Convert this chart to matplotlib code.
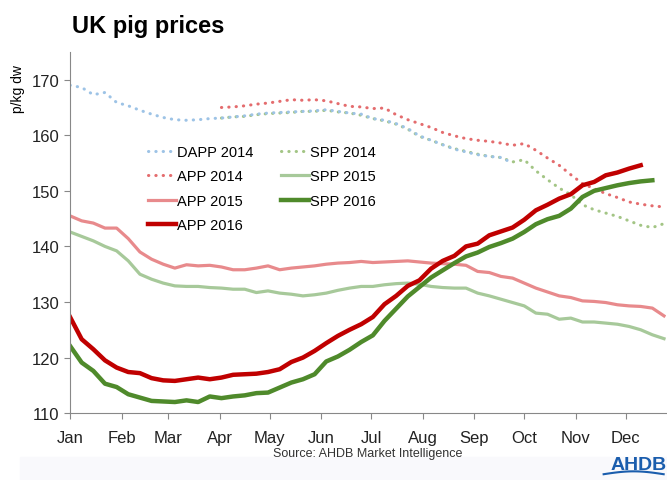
import numpy as np
import matplotlib.pyplot as plt
from matplotlib.patches import Rectangle

plt.rcParams['font.family'] = ['Liberation Sans', 'DejaVu Sans']

# weekly prices, p/kg dw (week 0 = first week of January)
dapp_2014 = [169.0, 168.6, 167.3, 167.7, 165.9, 165.3, 164.5, 163.8, 163.2, 162.8,
             162.7, 162.8, 163.0, 163.1, 163.3, 163.5, 163.8, 164.0, 164.1, 164.2,
             164.3, 164.4, 164.6, 164.3, 164.0, 163.8, 163.0, 162.7, 162.1, 161.2,
             159.9, 159.1, 158.3, 157.5, 157.0, 156.5, 156.2, 156.0, 155.0]
app_2014 = [165.0, 165.1, 165.3, 165.6, 165.8, 166.1, 166.4, 166.3, 166.4, 166.2,
            165.7, 165.2, 165.1, 164.8, 164.9, 163.7, 162.8, 162.1, 161.4, 160.5,
            159.9, 159.4, 159.1, 158.9, 158.6, 158.2, 158.5, 157.3, 155.9, 154.6,
            152.9, 151.3, 150.4, 149.5, 148.8, 148.0, 147.6, 147.3, 147.1]
spp_2014 = [163.1, 163.3, 163.4, 163.7, 163.9, 164.0, 164.1, 164.3, 164.3, 164.5,
            164.2, 164.0, 163.6, 163.0, 162.6, 162.0, 161.1, 159.8, 159.1, 158.3,
            157.6, 157.1, 156.6, 156.2, 156.0, 155.2, 155.6, 153.6, 152.0, 150.5,
            149.3, 147.5, 146.6, 146.0, 145.4, 144.6, 143.8, 143.4, 144.1]
app_2015 = [145.5, 144.6, 144.2, 143.3, 143.3, 141.4, 139.0, 137.7, 136.8, 136.1,
            136.7, 136.5, 136.6, 136.3, 135.8, 135.8, 136.1, 136.5, 135.8, 136.1,
            136.3, 136.5, 136.8, 137.0, 137.1, 137.3, 137.1, 137.2, 137.3, 137.4,
            137.2, 137.0, 136.9, 136.8, 136.6, 135.5, 135.3, 134.6, 134.3, 133.4,
            132.5, 131.8, 131.1, 130.8, 130.2, 130.1, 129.9, 129.5, 129.3, 129.2,
            128.9, 127.5]
spp_2015 = [142.6, 141.8, 141.0, 140.0, 139.2, 137.4, 135.0, 134.1, 133.4, 132.9,
            132.8, 132.8, 132.6, 132.5, 132.3, 132.3, 131.7, 132.0, 131.6, 131.4,
            131.1, 131.3, 131.6, 132.1, 132.5, 132.8, 132.8, 133.1, 133.3, 133.4,
            133.2, 132.8, 132.6, 132.5, 132.5, 131.6, 131.1, 130.5, 129.9, 129.3,
            128.0, 127.8, 126.9, 127.1, 126.4, 126.4, 126.2, 126.0, 125.6, 125.0,
            124.1, 123.4]
app_2016 = [127.3, 123.3, 121.5, 119.5, 118.2, 117.4, 117.2, 116.3, 115.9, 115.8,
            116.1, 116.4, 116.1, 116.4, 116.9, 117.0, 117.1, 117.4, 117.9, 119.2,
            120.0, 121.2, 122.6, 123.9, 125.0, 126.0, 127.3, 129.6, 131.1, 132.9,
            133.9, 136.0, 137.4, 138.3, 140.0, 140.5, 142.0, 142.7, 143.4, 144.8,
            146.5, 147.5, 148.6, 149.4, 151.0, 151.6, 152.8, 153.3, 154.0, 154.6]
spp_2016 = [122.1, 119.1, 117.6, 115.3, 114.7, 113.4, 112.8, 112.2, 112.1, 112.0,
            112.3, 112.0, 113.0, 112.7, 113.0, 113.2, 113.6, 113.7, 114.6, 115.5,
            116.1, 117.0, 119.3, 120.2, 121.4, 122.8, 124.0, 126.6, 128.8, 131.0,
            132.7, 134.4, 135.7, 137.0, 138.2, 138.9, 139.9, 140.6, 141.4, 142.6,
            144.0, 144.9, 145.5, 146.8, 148.9, 150.0, 150.5, 151.0, 151.4, 151.7,
            151.9]

months = ['Jan', 'Feb', 'Mar', 'Apr', 'May', 'Jun', 'Jul', 'Aug', 'Sep', 'Oct', 'Nov', 'Dec']
month_start = [0, 31, 59, 90, 120, 151, 181, 212, 243, 273, 304, 334]


def days(start, n):
    return (np.arange(n) + start) * 7


fig = plt.figure(figsize=(6.67, 4.81), dpi=100)
ax = fig.add_axes([0.105, 0.139, 0.893, 0.751])

dot = (0, (0.1, 2.3))
kw_dot = dict(lw=2.2, ls=dot, dash_capstyle='round')
ax.plot(days(13, len(spp_2014)), spp_2014, color='#a3c585', label='SPP 2014', **kw_dot)
ax.plot(days(0, len(dapp_2014)), dapp_2014, color='#9dc3e6', label='DAPP 2014', **kw_dot)
ax.plot(days(13, len(app_2014)), app_2014, color='#e46c6e', label='APP 2014', **kw_dot)
ax.plot(days(0, len(app_2015)), app_2015, color='#e88a8c', lw=2.3, label='APP 2015')
ax.plot(days(0, len(spp_2015)), spp_2015, color='#a7c99a', lw=2.3, label='SPP 2015')
ax.plot(days(0, len(app_2016)), app_2016, color='#c00000', lw=3.2, label='APP 2016')
ax.plot(days(0, len(spp_2016)), spp_2016, color='#4f8a2b', lw=3.2, label='SPP 2016')

ax.set_xlim(0, 358)
ax.set_ylim(110, 175)
ax.set_yticks([110, 120, 130, 140, 150, 160, 170])
ax.set_xticks(month_start)
ax.set_xticklabels(months)
ax.tick_params(axis='both', labelsize=12, colors='#888888', labelcolor='#222222', length=4)
ax.tick_params(axis='x', pad=8)
for s in ['top', 'right']:
    ax.spines[s].set_visible(False)
for s in ['left', 'bottom']:
    ax.spines[s].set_color('#888888')

order = ['DAPP 2014', 'APP 2014', 'APP 2015', 'APP 2016', 'SPP 2014', 'SPP 2015', 'SPP 2016']
handles, labels = ax.get_legend_handles_labels()
lookup = dict(zip(labels, handles))
ax.legend([lookup[k] for k in order], order, ncol=2, loc='upper left',
          bbox_to_anchor=(0.213, 0.709), bbox_transform=fig.transFigure,
          borderaxespad=0, frameon=False, fontsize=10.5,
          handlelength=1.9, handletextpad=0.1, columnspacing=1.9,
          labelspacing=0.72)

fig.text(0.108, 0.945, 'UK pig prices', fontsize=17, fontweight='bold', va='center')
fig.text(0.027, 0.815, 'p/kg dw', fontsize=10, rotation=90, va='center', ha='center')
fig.text(0.552, 0.056, 'Source: AHDB Market Intelligence', fontsize=9, ha='center', va='center',
         color='#333333')

fig.patches.append(Rectangle((0.03, 0.0), 0.97, 0.048, transform=fig.transFigure,
                             color='#f9f9fc', zorder=0))
fig.text(0.957, 0.033, 'AHDB', fontsize=14, fontweight='bold', color='#1a5dad',
         ha='center', va='center')
sx = np.linspace(0.905, 0.995, 40)
fig.add_artist(plt.Line2D(sx, 0.012 + 0.006 * np.sin((sx - 0.905) / 0.09 * np.pi),
                          color='#1a5dad', lw=1.5, transform=fig.transFigure))

plt.savefig('out.png')
